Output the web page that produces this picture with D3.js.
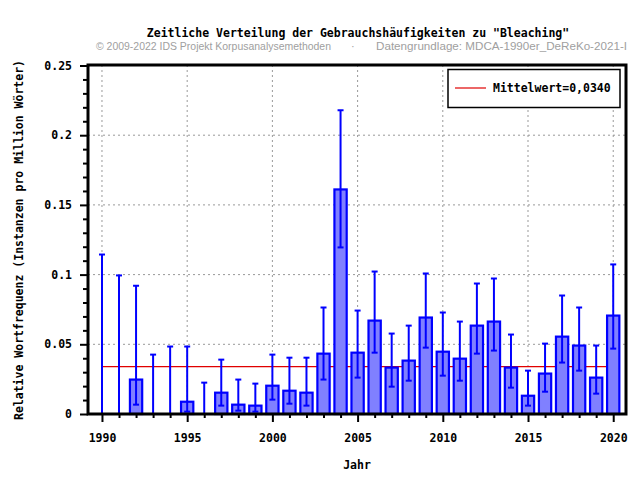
<!DOCTYPE html>
<html><head><meta charset="utf-8">
<script src="https://cdn.jsdelivr.net/npm/d3@7"></script>
<style>body{margin:0;background:#fff}svg{display:block}</style>
</head><body>
<script>
const years = [1990,1991,1992,1993,1994,1995,1996,1997,1998,1999,2000,2001,2002,2003,2004,2005,2006,2007,2008,2009,2010,2011,2012,2013,2014,2015,2016,2017,2018,2019,2020];
const values = [0,0,0.0247,0,0,0.0088,0,0.0153,0.0067,0.0060,0.0203,0.0167,0.0153,0.0433,0.1611,0.0440,0.0670,0.0333,0.0383,0.0692,0.0447,0.0397,0.0634,0.0663,0.0333,0.0131,0.0290,0.0555,0.0491,0.0261,0.0706];
const lower = [0,0,0.0067,0,0,0.0017,0,0.0060,0.0024,0.0017,0.0103,0.0074,0.0060,0.0247,0.1195,0.0261,0.0440,0.0196,0.0239,0.0476,0.0275,0.0239,0.0433,0.0455,0.0189,0.0060,0.0160,0.0369,0.0311,0.0146,0.0469];
const upper = [0.1144,0.0994,0.0920,0.0426,0.0484,0.0484,0.0225,0.0390,0.0247,0.0218,0.0426,0.0404,0.0404,0.0764,0.2179,0.0742,0.1022,0.0577,0.0634,0.1008,0.0728,0.0663,0.0936,0.0972,0.0570,0.0311,0.0505,0.0850,0.0764,0.0491,0.1073];
const mean = 0.0340;
const yTicks = [0,0.05,0.1,0.15,0.2,0.25];
const yTickLabels = ["0","0.05","0.1","0.15","0.2","0.25"];
const xTicks = [1990,1995,2000,2005,2010,2015,2020];
const titleText = 'Zeitliche Verteilung der Gebrauchshäufigkeiten zu "Bleaching"';
const sub1 = "© 2009-2022 IDS Projekt Korpusanalysemethoden";
const sub2 = "Datengrundlage: MDCA-1990er_DeReKo-2021-I";
const legendText = "Mittelwert=0,0340";

const W=640,H=480;
const L=88,R=626,T=65,B=414;
const mono = "'DejaVu Sans Mono', monospace";
const sans = "'Liberation Sans', Arial, sans-serif";
const svg = d3.select("body").append("svg").attr("width",W).attr("height",H);
const x = d3.scaleLinear().domain([1989.18,2020.75]).range([L,R]);
const y = d3.scaleLinear().domain([0,0.25]).range([B,T+0.5]);

// grid
const g = svg.append("g");
g.selectAll("line.gx").data(xTicks).join("line")
  .attr("x1",d=>x(d)).attr("x2",d=>x(d)).attr("y1",T).attr("y2",B)
  .attr("stroke","#999").attr("stroke-dasharray","2,3");
g.selectAll("line.gy").data(yTicks.slice(1,-1)).join("line")
  .attr("x1",L).attr("x2",R).attr("y1",d=>y(d)).attr("y2",d=>y(d))
  .attr("stroke","#999").attr("stroke-dasharray","2,3");

// mean line
svg.append("line").attr("x1",x(1990)).attr("x2",x(2020)).attr("y1",y(mean)).attr("y2",y(mean))
  .attr("stroke","#e00000").attr("stroke-width",1.2);

// bars
const bw = 0.72*(x(1)-x(0));
const data = years.map((yr,i)=>({yr,v:values[i],lo:lower[i],hi:upper[i]}));
svg.append("g").selectAll("rect").data(data.filter(d=>d.v>0)).join("rect")
  .attr("x",d=>x(d.yr)-bw/2).attr("width",bw)
  .attr("y",d=>y(d.v)).attr("height",d=>B-y(d.v))
  .attr("fill","#8080ff").attr("stroke","#0000ff").attr("stroke-width",2.2);

// error bars
const eb = svg.append("g").attr("stroke","#0000ff").attr("stroke-width",2);
eb.selectAll("line.v").data(data).join("line")
  .attr("x1",d=>x(d.yr)).attr("x2",d=>x(d.yr)).attr("y1",d=>y(d.lo)).attr("y2",d=>y(d.hi));
eb.selectAll("line.t").data(data).join("line")
  .attr("x1",d=>x(d.yr)-3).attr("x2",d=>x(d.yr)+3).attr("y1",d=>y(d.hi)).attr("y2",d=>y(d.hi));
eb.selectAll("line.b").data(data).join("line")
  .attr("x1",d=>x(d.yr)-3).attr("x2",d=>x(d.yr)+3).attr("y1",d=>y(d.lo)).attr("y2",d=>y(d.lo));

// axes
const xAxis = d3.axisBottom(x).tickValues(xTicks).tickFormat(d3.format("d")).tickSize(8).tickPadding(12);
const xa = svg.append("g").attr("transform",`translate(0,${B})`).call(xAxis);
const xMinor = d3.axisBottom(x).tickValues(years.filter(d=>d%5)).tickFormat("").tickSize(4);
const xm = svg.append("g").attr("transform",`translate(0,${B})`).call(xMinor);
const yAxis = d3.axisLeft(y).tickValues(yTicks).tickFormat((d,i)=>yTickLabels[i]).tickSize(8).tickPadding(8);
const ya = svg.append("g").attr("transform",`translate(${L},0)`).call(yAxis);
const yMinorVals = d3.range(0,26).map(i=>i/100).filter(v=>Math.round(v*100)%5);
const ym = svg.append("g").attr("transform",`translate(${L},0)`).call(d3.axisLeft(y).tickValues(yMinorVals).tickFormat("").tickSize(5));
[xa,xm,ya,ym].forEach(a=>{
  a.select(".domain").remove();
  a.selectAll(".tick line").attr("stroke","#000").attr("stroke-width",2);
  a.selectAll("text").attr("font-family",mono).attr("font-weight","bold").attr("font-size","11.5px").attr("fill","#000");
});
// frame
svg.append("rect").attr("x",L).attr("y",T).attr("width",R-L).attr("height",B-T)
  .attr("fill","none").attr("stroke","#000").attr("stroke-width",3);

// legend
svg.append("rect").attr("x",448).attr("y",69.5).attr("width",172).attr("height",38)
  .attr("fill","#fff").attr("stroke","#000").attr("stroke-width",1.5);
svg.append("line").attr("x1",455).attr("x2",486).attr("y1",88).attr("y2",88).attr("stroke","#e00000").attr("stroke-width",1.2);
svg.append("text").attr("x",493).attr("y",92).text(legendText)
  .attr("font-family",mono).attr("font-weight","bold").attr("font-size","11.5px");

// titles
svg.append("text").attr("x",358).attr("y",37).attr("text-anchor","middle").text(titleText)
  .attr("font-family",mono).attr("font-weight","bold").attr("font-size","11.5px");
svg.append("text").attr("x",96).attr("y",50).text(sub1)
  .attr("textLength",235).attr("lengthAdjust","spacingAndGlyphs")
  .attr("font-family",sans).attr("font-size","11px").attr("fill","#a0a0a0");
svg.append("text").attr("x",351).attr("y",50).text("·")
  .attr("font-family",sans).attr("font-size","11px").attr("fill","#a0a0a0");
svg.append("text").attr("x",376).attr("y",50).text(sub2)
  .attr("textLength",251).attr("lengthAdjust","spacingAndGlyphs")
  .attr("font-family",sans).attr("font-size","11px").attr("fill","#a0a0a0");
svg.append("text").attr("x",357).attr("y",469).attr("text-anchor","middle").text("Jahr")
  .attr("font-family",mono).attr("font-weight","bold").attr("font-size","11.5px");
svg.append("text").attr("transform","translate(23,240) rotate(-90)").attr("text-anchor","middle")
  .text("Relative Wortfrequenz (Instanzen pro Million Wörter)")
  .attr("font-family",mono).attr("font-weight","bold").attr("font-size","11.5px");
</script>
</body></html>
